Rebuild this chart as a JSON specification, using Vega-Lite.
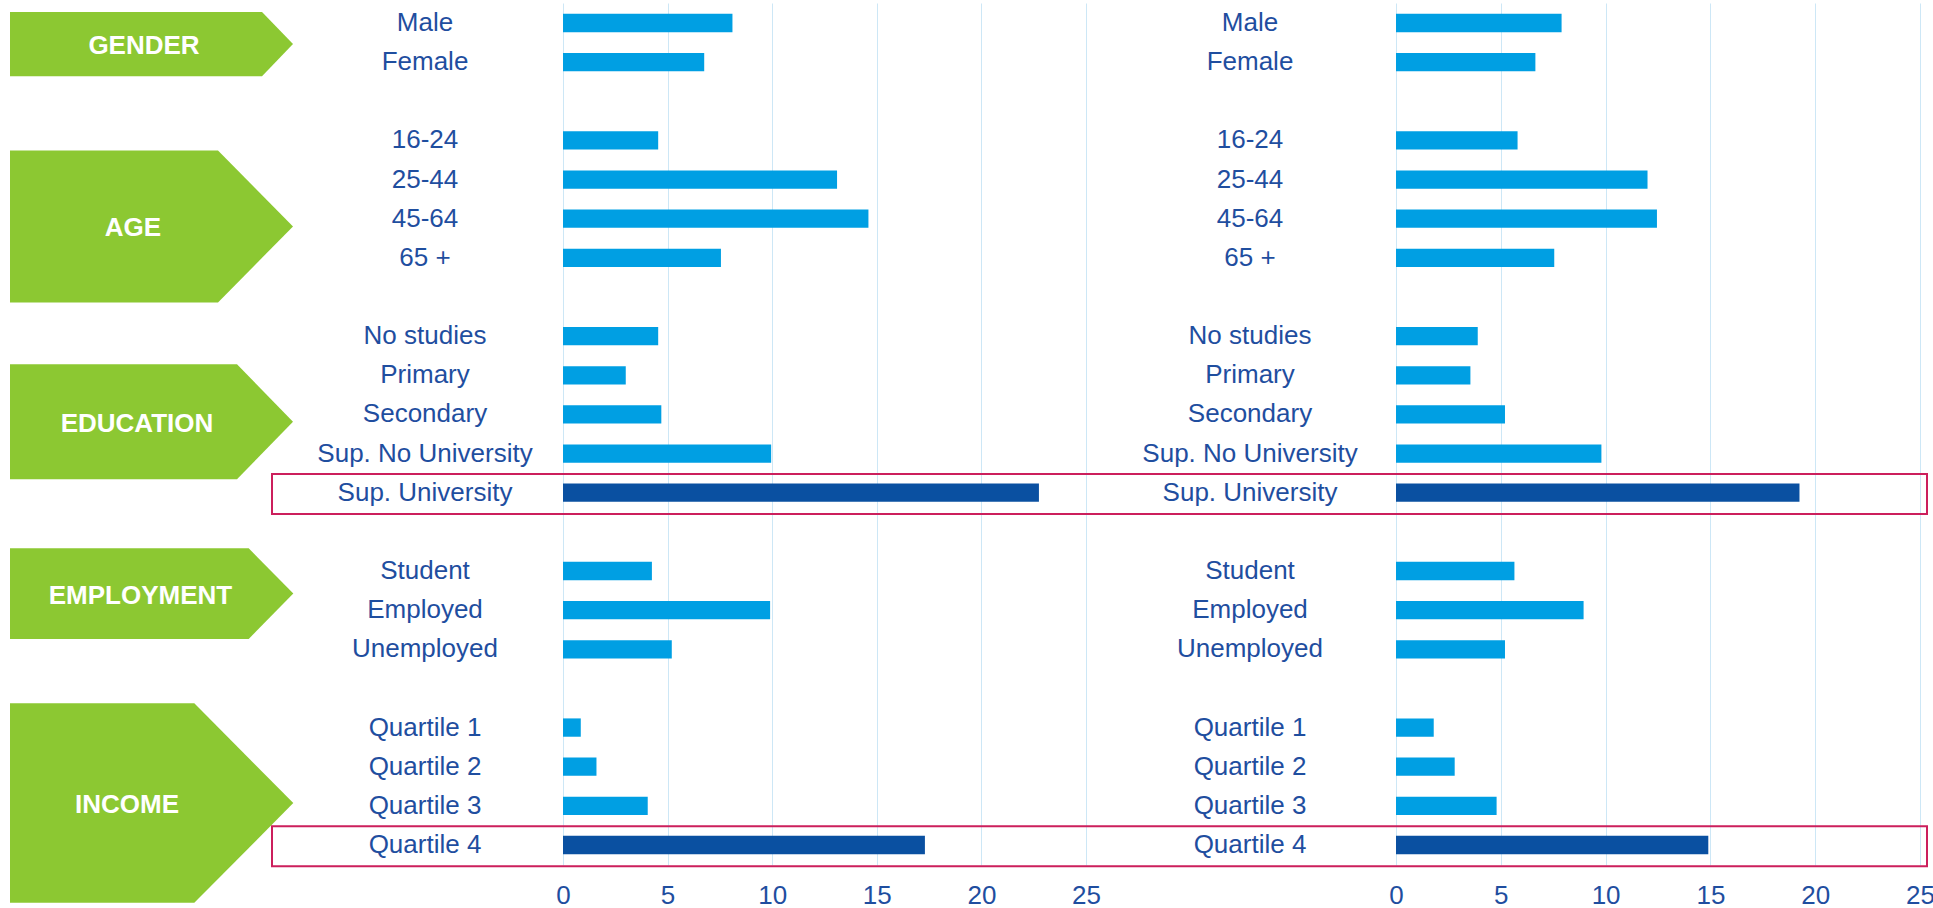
{
  "$schema": "https://vega.github.io/schema/vega-lite/v6.json",
  "width": 1933,
  "height": 862,
  "autosize": {"type": "none"},
  "padding": {"left": 0, "top": 3, "right": 0, "bottom": 43},
  "background": "white",
  "config": {
    "view": {"stroke": null},
    "font": "Liberation Sans",
    "axisX": {"tickCount": 5, "grid": true, "gridColor": "#cde7f6", "gridWidth": 1, "domain": false, "ticks": false, "labelFontSize": 26, "labelColor": "#1f4e9f", "labelPadding": 17, "labelFont": "Liberation Sans", "labelFlush": false, "title": null}
  },
  "datasets": {
    "bars": [
      {"panel": "A", "group": "GENDER", "category": "Male", "value": 8.1},
      {"panel": "A", "group": "GENDER", "category": "Female", "value": 6.75},
      {"panel": "A", "group": "AGE", "category": "16-24", "value": 4.55},
      {"panel": "A", "group": "AGE", "category": "25-44", "value": 13.1},
      {"panel": "A", "group": "AGE", "category": "45-64", "value": 14.6},
      {"panel": "A", "group": "AGE", "category": "65 +", "value": 7.55},
      {"panel": "A", "group": "EDUCATION", "category": "No studies", "value": 4.55},
      {"panel": "A", "group": "EDUCATION", "category": "Primary", "value": 3.0},
      {"panel": "A", "group": "EDUCATION", "category": "Secondary", "value": 4.7},
      {"panel": "A", "group": "EDUCATION", "category": "Sup. No University", "value": 9.95},
      {"panel": "A", "group": "EDUCATION", "category": "Sup. University", "value": 22.75},
      {"panel": "A", "group": "EMPLOYMENT", "category": "Student", "value": 4.25},
      {"panel": "A", "group": "EMPLOYMENT", "category": "Employed", "value": 9.9},
      {"panel": "A", "group": "EMPLOYMENT", "category": "Unemployed", "value": 5.2},
      {"panel": "A", "group": "INCOME", "category": "Quartile 1", "value": 0.85},
      {"panel": "A", "group": "INCOME", "category": "Quartile 2", "value": 1.6},
      {"panel": "A", "group": "INCOME", "category": "Quartile 3", "value": 4.05},
      {"panel": "A", "group": "INCOME", "category": "Quartile 4", "value": 17.3},
      {"panel": "B", "group": "GENDER", "category": "Male", "value": 7.9},
      {"panel": "B", "group": "GENDER", "category": "Female", "value": 6.65},
      {"panel": "B", "group": "AGE", "category": "16-24", "value": 5.8},
      {"panel": "B", "group": "AGE", "category": "25-44", "value": 12.0},
      {"panel": "B", "group": "AGE", "category": "45-64", "value": 12.45},
      {"panel": "B", "group": "AGE", "category": "65 +", "value": 7.55},
      {"panel": "B", "group": "EDUCATION", "category": "No studies", "value": 3.9},
      {"panel": "B", "group": "EDUCATION", "category": "Primary", "value": 3.55},
      {"panel": "B", "group": "EDUCATION", "category": "Secondary", "value": 5.2},
      {"panel": "B", "group": "EDUCATION", "category": "Sup. No University", "value": 9.8},
      {"panel": "B", "group": "EDUCATION", "category": "Sup. University", "value": 19.25},
      {"panel": "B", "group": "EMPLOYMENT", "category": "Student", "value": 5.65},
      {"panel": "B", "group": "EMPLOYMENT", "category": "Employed", "value": 8.95},
      {"panel": "B", "group": "EMPLOYMENT", "category": "Unemployed", "value": 5.2},
      {"panel": "B", "group": "INCOME", "category": "Quartile 1", "value": 1.8},
      {"panel": "B", "group": "INCOME", "category": "Quartile 2", "value": 2.8},
      {"panel": "B", "group": "INCOME", "category": "Quartile 3", "value": 4.8},
      {"panel": "B", "group": "INCOME", "category": "Quartile 4", "value": 14.9}
    ],
    "groups": [
      {"group": "GENDER", "category": "Male"},
      {"group": "AGE", "category": "16-24"},
      {"group": "EDUCATION", "category": "No studies"},
      {"group": "EMPLOYMENT", "category": "Student"},
      {"group": "INCOME", "category": "Quartile 1"}
    ]
  },
  "encoding": {
    "y": {
      "field": "category",
      "type": "nominal",
      "axis": null,
      "scale": {
        "domain": ["Male", "Female", "gap1", "16-24", "25-44", "45-64", "65 +", "gap2", "No studies", "Primary", "Secondary", "Sup. No University", "Sup. University", "gap3", "Student", "Employed", "Unemployed", "gap4", "Quartile 1", "Quartile 2", "Quartile 3", "Quartile 4"],
        "paddingInner": 0.532,
        "paddingOuter": 0.277
      }
    }
  },
  "layer": [
    {
      "layer": [
        {
          "data": {"name": "bars"},
          "transform": [{"filter": "datum.panel === 'A'"}],
          "mark": {"type": "bar"},
          "encoding": {
            "x": {"field": "value", "type": "quantitative", "scale": {"domain": [0, 25], "range": [563, 1086], "nice": false}, "axis": {"title": null, "orient": "bottom", "grid": true}},
            "color": {
              "condition": {"test": "datum.category === 'Sup. University' || datum.category === 'Quartile 4'", "value": "#0a50a1"},
              "value": "#009fe3"
            }
          }
        },
        {
          "data": {"name": "bars"},
          "transform": [{"filter": "datum.panel === 'A'"}],
          "mark": {"type": "text", "align": "center", "baseline": "middle", "dx": -138, "fontSize": 26, "color": "#1f4e9f", "font": "Liberation Sans"},
          "encoding": {
            "x": {"datum": 0, "type": "quantitative", "scale": {"domain": [0, 25], "range": [563, 1086], "nice": false}, "axis": {"title": null, "orient": "bottom", "grid": true}},
            "text": {"field": "category"}
          }
        },
        {
          "data": {"name": "groups"},
          "mark": {"type": "point", "filled": true, "size": 4, "opacity": 1, "color": "#8cc832", "strokeWidth": 0},
          "encoding": {
            "x": {"datum": 0, "type": "quantitative", "scale": {"domain": [0, 25], "range": [563, 1086], "nice": false}, "axis": {"title": null, "orient": "bottom", "grid": true}},
            "shape": {
              "field": "group",
              "type": "nominal",
              "legend": null,
              "scale": {
                "domain": ["GENDER", "AGE", "EDUCATION", "EMPLOYMENT", "INCOME"],
                "range": [
                  "M-553,-11L-301,-11L-270,21L-301,53.3L-553,53.3Z",
                  "M-553,10L-345,10L-270,86L-345,162L-553,162Z",
                  "M-553,28.2L-326,28.2L-270,85.5L-326,143L-553,143Z",
                  "M-553,-22.7L-314.3,-22.7L-269.7,22.5L-314.3,68L-553,68Z",
                  "M-553,-24.2L-368.7,-24.2L-269.7,75.5L-368.7,175.2L-553,175.2Z"
                ]
              }
            }
          }
        },
        {
          "data": {"name": "groups"},
          "transform": [{"filter": "datum.group === 'GENDER'"}],
          "mark": {"type": "text", "align": "center", "baseline": "middle", "dx": -419, "dy": 22.5, "fontSize": 26, "fontWeight": "bold", "color": "white", "font": "Liberation Sans"},
          "encoding": {
            "x": {"datum": 0, "type": "quantitative", "scale": {"domain": [0, 25], "range": [563, 1086], "nice": false}, "axis": {"title": null, "orient": "bottom", "grid": true}},
            "text": {"field": "group"}
          }
        },
        {
          "data": {"name": "groups"},
          "transform": [{"filter": "datum.group === 'AGE'"}],
          "mark": {"type": "text", "align": "center", "baseline": "middle", "dx": -430, "dy": 88, "fontSize": 26, "fontWeight": "bold", "color": "white", "font": "Liberation Sans"},
          "encoding": {
            "x": {"datum": 0, "type": "quantitative", "scale": {"domain": [0, 25], "range": [563, 1086], "nice": false}, "axis": {"title": null, "orient": "bottom", "grid": true}},
            "text": {"field": "group"}
          }
        },
        {
          "data": {"name": "groups"},
          "transform": [{"filter": "datum.group === 'EDUCATION'"}],
          "mark": {"type": "text", "align": "center", "baseline": "middle", "dx": -426, "dy": 88, "fontSize": 26, "fontWeight": "bold", "color": "white", "font": "Liberation Sans"},
          "encoding": {
            "x": {"datum": 0, "type": "quantitative", "scale": {"domain": [0, 25], "range": [563, 1086], "nice": false}, "axis": {"title": null, "orient": "bottom", "grid": true}},
            "text": {"field": "group"}
          }
        },
        {
          "data": {"name": "groups"},
          "transform": [{"filter": "datum.group === 'EMPLOYMENT'"}],
          "mark": {"type": "text", "align": "center", "baseline": "middle", "dx": -422.5, "dy": 25, "fontSize": 26, "fontWeight": "bold", "color": "white", "font": "Liberation Sans"},
          "encoding": {
            "x": {"datum": 0, "type": "quantitative", "scale": {"domain": [0, 25], "range": [563, 1086], "nice": false}, "axis": {"title": null, "orient": "bottom", "grid": true}},
            "text": {"field": "group"}
          }
        },
        {
          "data": {"name": "groups"},
          "transform": [{"filter": "datum.group === 'INCOME'"}],
          "mark": {"type": "text", "align": "center", "baseline": "middle", "dx": -436, "dy": 77.5, "fontSize": 26, "fontWeight": "bold", "color": "white", "font": "Liberation Sans"},
          "encoding": {
            "x": {"datum": 0, "type": "quantitative", "scale": {"domain": [0, 25], "range": [563, 1086], "nice": false}, "axis": {"title": null, "orient": "bottom", "grid": true}},
            "text": {"field": "group"}
          }
        },
        {
          "data": {"name": "bars"},
          "transform": [{"filter": "datum.panel === 'A' && (datum.category === 'Sup. University' || datum.category === 'Quartile 4')"}],
          "mark": {"type": "point", "shape": "M-291,-18.7L1364,-18.7L1364,21.3L-291,21.3Z", "filled": false, "size": 4, "opacity": 1, "color": "#cc1f5c", "strokeWidth": 2},
          "encoding": {
            "x": {"datum": 0, "type": "quantitative", "scale": {"domain": [0, 25], "range": [563, 1086], "nice": false}, "axis": {"title": null, "orient": "bottom", "grid": true}}
          }
        }
      ]
    },
    {
      "layer": [
        {
          "data": {"name": "bars"},
          "transform": [{"filter": "datum.panel === 'B'"}],
          "mark": {"type": "bar"},
          "encoding": {
            "x": {"field": "value", "type": "quantitative", "scale": {"domain": [0, 25], "range": [1396, 1920], "nice": false}, "axis": {"title": null, "orient": "bottom", "grid": true}},
            "color": {
              "condition": {"test": "datum.category === 'Sup. University' || datum.category === 'Quartile 4'", "value": "#0a50a1"},
              "value": "#009fe3"
            }
          }
        },
        {
          "data": {"name": "bars"},
          "transform": [{"filter": "datum.panel === 'B'"}],
          "mark": {"type": "text", "align": "center", "baseline": "middle", "dx": -146, "fontSize": 26, "color": "#1f4e9f", "font": "Liberation Sans"},
          "encoding": {
            "x": {"datum": 0, "type": "quantitative", "scale": {"domain": [0, 25], "range": [1396, 1920], "nice": false}, "axis": {"title": null, "orient": "bottom", "grid": true}},
            "text": {"field": "category"}
          }
        }
      ]
    }
  ],
  "resolve": {"scale": {"x": "independent"}, "axis": {"x": "independent"}}
}
